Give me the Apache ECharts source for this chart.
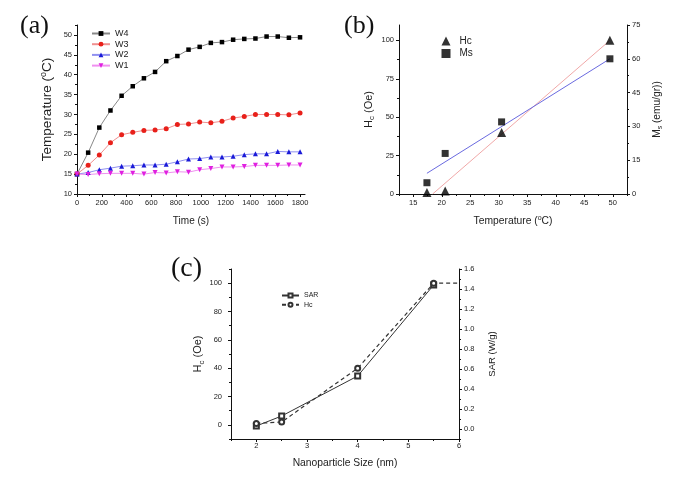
<!DOCTYPE html>
<html>
<head>
<meta charset="utf-8">
<script src="https://cdn.jsdelivr.net/npm/echarts@6/dist/echarts.min.js"></script>
<style>html,body{margin:0;padding:0;background:#fff}#c{width:685px;height:484px}</style>
</head>
<body>
<div id="c"></div>
<script>
// ---------- Panel (a) data ----------
const timeS = [0,90,180,270,360,450,540,630,720,810,900,990,1080,1170,1260,1350,1440,1530,1620,1710,1800];
const w4 = [15,20.4,26.7,31.0,34.7,37.1,39.1,40.7,43.4,44.7,46.3,47.0,48.0,48.2,48.8,49.0,49.1,49.6,49.6,49.3,49.4];
const w3 = [15,17.2,19.8,22.9,24.9,25.5,26.0,26.1,26.4,27.5,27.6,28.1,27.9,28.3,29.1,29.5,30.0,30.0,30.0,29.9,30.4];
const w2 = [15,15.4,16.1,16.5,17.0,17.1,17.3,17.3,17.5,18.1,18.8,18.9,19.3,19.3,19.5,19.9,20.1,20.1,20.7,20.6,20.6];
const w1 = [15,14.9,15.1,15.2,15.2,15.2,15.0,15.4,15.3,15.6,15.5,16.1,16.4,16.8,16.8,16.9,17.2,17.2,17.2,17.3,17.3];
const aXTicks = [0,200,400,600,800,1000,1200,1400,1600,1800];
const aYTicks = [10,15,20,25,30,35,40,45,50];

// ---------- Panel (b) data ----------
const bTemp = [17.4,20.6,30.5,49.5];
const bHc = [1,2,40,100];
const bMs = [5,18,32,60];
const bHcFitX = [18.4,49.5];
const bHcFitY = [0,100];
const bMsFitX = [17.4,49.5];
const bMsFitY = [9.2,60];
const bXTicks = [15,20,25,30,35,40,45,50];
const bHcTicks = [0,25,50,75,100];
const bMsTicks = [0,15,30,45,60,75];

// ---------- Panel (c) data ----------
const cSize = [2,2.5,4,5.5];
const cSar = [0.03,0.13,0.53,1.44];
const cHcX = [2,2.5,4,5.5,6];
const cHc = [1,2,40,100,100];
const cXTicks = [2,3,4,5,6];
const cHcTicks = [0,20,40,60,80,100];
const cSarTicks = [0,0.2,0.4,0.6,0.8,1.0,1.2,1.4,1.6];

const FONT = 'Liberation Sans';
const TXT = '#222';
function nameStyle(size) {
  const s = Math.round(size * 0.7);
  return {
    fontSize: size, fontFamily: FONT, color: TXT,
    rich: {
      sub: {fontSize: s, fontFamily: FONT, color: TXT, padding: [Math.round(size * 0.6),0,0,0]},
      sup: {fontSize: s, fontFamily: FONT, color: TXT, padding: [0,0,Math.round(size * 0.6),0]}
    }
  };
}

function minors(min, max, step) {
  const out = [];
  for (let v = min; v <= max + 1e-9; v += step) out.push(+v.toFixed(6));
  return out;
}

function mainAxis(o) {
  return {
    type: 'value', gridIndex: o.grid, min: o.min, max: o.max, position: o.position,
    name: o.name || '', nameLocation: 'middle', nameGap: o.nameGap || 20,
    nameTextStyle: nameStyle(o.nameSize || 10),
    axisLine: {show: true, onZero: false, lineStyle: {color: '#111', width: 1}},
    axisTick: {show: true, inside: false, length: 3, customValues: o.ticks, lineStyle: {color: '#111', width: 1}},
    axisLabel: {show: true, customValues: o.ticks, fontSize: 7.5, fontFamily: FONT, color: TXT,
      margin: o.margin !== undefined ? o.margin : 5,
      formatter: o.fmt || (v => String(v))},
    splitLine: {show: false}, minorTick: {show: false}
  };
}
function minorAxis(o) {
  return {
    type: 'value', gridIndex: o.grid, min: o.min, max: o.max, position: o.position,
    axisLine: {show: false, onZero: false},
    axisTick: {show: true, inside: false, length: 2, customValues: minors(o.min, o.max, o.step), lineStyle: {color: '#111', width: 1}},
    axisLabel: {show: false}, splitLine: {show: false}
  };
}

const xAxes = [
  mainAxis({grid:0, min:0, max:1840, ticks:aXTicks, position:'bottom', name:'Time (s)', nameGap:22}),
  mainAxis({grid:1, min:12.5, max:52.5, ticks:bXTicks, position:'bottom', name:'Temperature ({sup|o}C)', nameGap:21, nameSize:10.3}),
  mainAxis({grid:2, min:1.5, max:6, ticks:cXTicks, position:'bottom', name:'Nanoparticle Size (nm)', nameGap:19, nameSize:10.3, margin:3}),
  minorAxis({grid:0, min:0, max:1840, step:100, position:'bottom'}),
  minorAxis({grid:1, min:12.5, max:52.5, step:2.5, position:'bottom'}),
  minorAxis({grid:2, min:1.5, max:6, step:0.5, position:'bottom'})
];
const yAxes = [
  mainAxis({grid:0, min:10, max:52.5, ticks:aYTicks, position:'left', name:'Temperature ({sup|o}C)', nameGap:21, nameSize:13.5}),
  mainAxis({grid:1, min:0, max:110, ticks:bHcTicks, position:'left', name:'H{sub|c} (Oe)', nameGap:23, nameSize:11}),
  mainAxis({grid:1, min:0, max:75, ticks:bMsTicks, position:'right', name:'M{sub|s} (emu/gr))', nameGap:24, nameSize:10.2}),
  mainAxis({grid:2, min:-10, max:110, ticks:cHcTicks, position:'left', name:'H{sub|c} (Oe)', nameGap:21, nameSize:11, margin:9}),
  mainAxis({grid:2, min:-0.1, max:1.6, ticks:cSarTicks, position:'right', name:'SAR (W/g)', nameGap:28, nameSize:9.5, fmt: v => v.toFixed(1)}),
  minorAxis({grid:0, min:10, max:52.5, step:2.5, position:'left'}),
  minorAxis({grid:1, min:0, max:110, step:12.5, position:'left'}),
  minorAxis({grid:1, min:0, max:75, step:7.5, position:'right'}),
  minorAxis({grid:2, min:-10, max:110, step:10, position:'left'}),
  minorAxis({grid:2, min:-0.1, max:1.6, step:0.1, position:'right'})
];

function zip(xs, ys) { return xs.map((x, i) => [x, ys[i]]); }

function wSeries(name, ys, symbol, mColor, lColor, rot) {
  return {
    name, type: 'line', xAxisIndex: 0, yAxisIndex: 0, data: zip(timeS, ys),
    symbol, symbolSize: symbol === 'rect' ? 4.5 : 5, symbolRotate: rot || 0,
    itemStyle: {color: mColor}, lineStyle: {color: lColor, width: 1}, z: 3
  };
}

const cHcData = zip(cHcX, cHc).map((p, i) => i === cHcX.length - 1 ? {value: p, symbol: 'none'} : p);

const option = {
  animation: false,
  backgroundColor: '#fff',
  textStyle: {fontFamily: FONT},
  grid: [
    {left: 77, top: 25, width: 228, height: 169},
    {left: 399, top: 25, width: 228, height: 169},
    {left: 231, top: 269, width: 228, height: 170}
  ],
  xAxis: xAxes,
  yAxis: yAxes,
  legend: [
    {data: ['W4','W3','W2','W1'], orient: 'vertical', left: 91, top: 29, padding: 0,
     itemWidth: 18, itemHeight: 6, itemGap: 1.7, textStyle: {fontSize: 9, lineHeight: 9, fontFamily: FONT, color: TXT}},
    {data: ['Hc','Ms'], orient: 'vertical', left: 441.5, top: 36, padding: 0,
     itemWidth: 9, itemHeight: 9, itemGap: 2.5, textStyle: {fontSize: 10, fontFamily: FONT, color: TXT, padding: [0,0,0,4]}},
    {data: ['SAR','Hc (c)'], orient: 'vertical', left: 281, top: 292, padding: 0,
     itemWidth: 17, itemHeight: 5, itemGap: 2.3, textStyle: {fontSize: 7, lineHeight: 6, fontFamily: FONT, color: TXT},
     formatter: n => n === 'Hc (c)' ? 'Hc' : n}
  ],
  graphic: [
    {type: 'text', left: 20, top: 13, style: {text: '(a)', font: '26px "Liberation Serif"', fill: '#111'}},
    {type: 'text', left: 344, top: 13, style: {text: '(b)', font: '26px "Liberation Serif"', fill: '#111'}},
    {type: 'text', left: 171, top: 255, style: {text: '(c)', font: '28px "Liberation Serif"', fill: '#111'}}
  ],
  series: [
    wSeries('W4', w4, 'rect', '#000', '#888'),
    wSeries('W3', w3, 'circle', '#e8201a', '#f09090'),
    wSeries('W2', w2, 'triangle', '#1a1ad8', '#9090f0'),
    wSeries('W1', w1, 'triangle', '#e020e0', '#f090f0', 180),
    {name: 'HcFit', type: 'line', xAxisIndex: 1, yAxisIndex: 1, data: zip(bHcFitX, bHcFitY),
     symbol: 'none', lineStyle: {color: '#f0a8a8', width: 1}, z: 2},
    {name: 'MsFit', type: 'line', xAxisIndex: 1, yAxisIndex: 2, data: zip(bMsFitX, bMsFitY),
     symbol: 'none', lineStyle: {color: '#6a6ae0', width: 1}, z: 2},
    {name: 'Hc', type: 'scatter', xAxisIndex: 1, yAxisIndex: 1, data: zip(bTemp, bHc),
     symbol: 'triangle', symbolSize: 9, itemStyle: {color: '#000'}, z: 4},
    {name: 'Ms', type: 'scatter', xAxisIndex: 1, yAxisIndex: 2, data: zip(bTemp, bMs),
     symbol: 'rect', symbolSize: 7, itemStyle: {color: '#000'}, z: 4},
    {name: 'SAR', type: 'line', xAxisIndex: 2, yAxisIndex: 4, data: zip(cSize, cSar),
     symbol: 'emptyRect', symbolSize: 5, itemStyle: {color: '#333'}, lineStyle: {color: '#333', width: 1}, z: 3},
    {name: 'Hc (c)', type: 'line', xAxisIndex: 2, yAxisIndex: 3, data: cHcData,
     symbol: 'emptyCircle', symbolSize: 5, itemStyle: {color: '#333', borderWidth: 1.5}, lineStyle: {color: '#333', width: 1.2, type: [4,3]}, z: 3}
  ]
};

const chart = echarts.init(document.getElementById('c'), null, {renderer: 'canvas'});
chart.setOption(option);
</script>
</body>
</html>
